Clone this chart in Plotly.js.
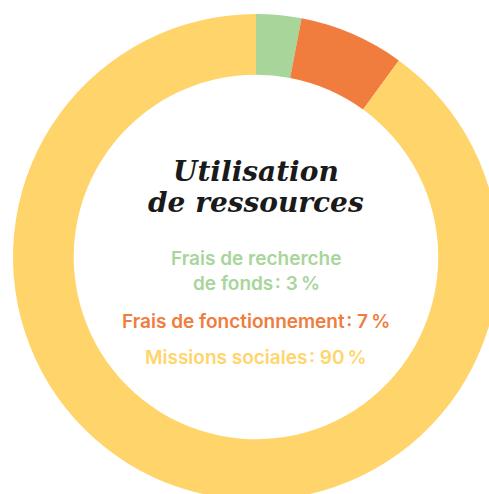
<!DOCTYPE html>
<html>
<head>
<meta charset="utf-8">
<script src="https://cdn.plot.ly/plotly-3.0.1.min.js"></script>
<style>
html, body { margin: 0; padding: 0; overflow: hidden; background: #ffffff; width: 489px; height: 494px; }
#chart { position: absolute; left: 0; top: 0; width: 512px; height: 514px; }
</style>
</head>
<body>
<div id="chart"></div>
<script>
const categories = ["Frais de recherche de fonds", "Frais de fonctionnement", "Missions sociales"];
const values = [3, 7, 90];
const colors = ["#A8D59A", "#F07C3E", "#FFD56B"];
const titleLines = ["Utilisation", "de ressources"];
const labelLines = [
  {text: "Frais de recherche", color: "#A8D59A", py: 258},
  {text: "de fonds\u200a: 3\u202f%", color: "#A8D59A", py: 283},
  {text: "Frais de fonctionnement\u200a: 7\u202f%", color: "#F07C3E", py: 321},
  {text: "Missions sociales\u200a: 90\u202f%", color: "#FFD56B", py: 357}
];

const W = 512, H = 514;
const m = {l: 13, r: 13, t: 14, b: 14, pad: 0};
const plotH = H - m.t - m.b;
function py2paper(py) { return 1 - (py - m.t) / plotH; }

const annotations = [];
[172, 203].forEach((py, i) => {
  annotations.push({
    text: titleLines[i], x: 0.5, y: py2paper(py), xref: "paper", yref: "paper",
    xanchor: "center", yanchor: "middle", showarrow: false,
    font: {family: "DejaVu Serif", size: 28, color: "#1a1a1a", weight: 700, style: "italic"}
  });
});
labelLines.forEach(l => {
  annotations.push({
    text: l.text, x: 0.5, y: py2paper(l.py), xref: "paper", yref: "paper",
    xanchor: "center", yanchor: "middle", showarrow: false,
    font: {family: "Inter", size: 19, color: l.color, weight: 600}
  });
});

Plotly.newPlot("chart", [{
  type: "pie",
  labels: categories,
  values: values,
  marker: {colors: colors, line: {width: 0}},
  hole: 0.75,
  sort: false,
  direction: "clockwise",
  rotation: 0,
  textinfo: "none",
  hoverinfo: "none"
}], {
  width: W, height: H,
  margin: m,
  showlegend: false,
  paper_bgcolor: "#ffffff",
  annotations: annotations
}, {staticPlot: true, displayModeBar: false});
</script>
</body>
</html>
